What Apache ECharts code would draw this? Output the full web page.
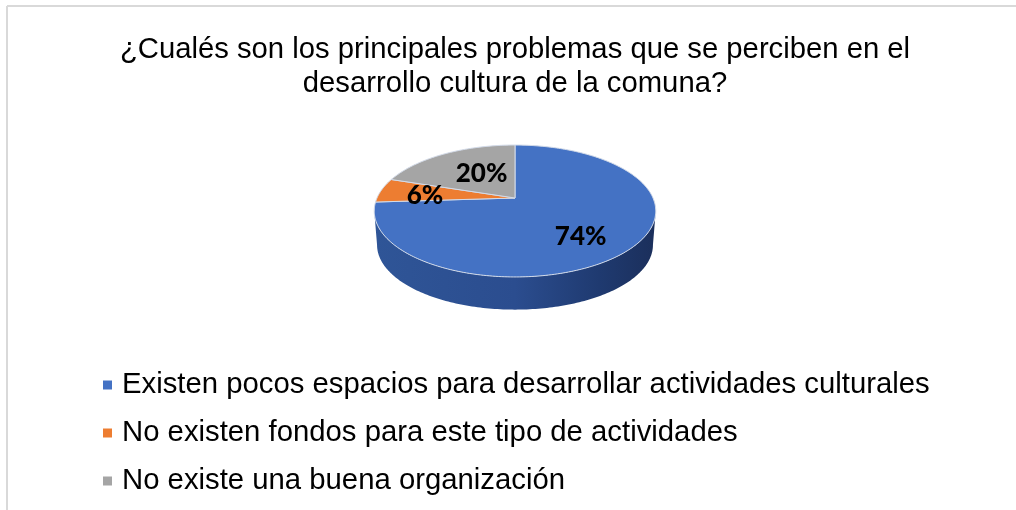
<!DOCTYPE html>
<html>
<head>
<meta charset="utf-8">
<style>
  html, body { margin: 0; padding: 0; background: #fff; }
  #chart { width: 1016px; height: 510px; }
</style>
<script src="https://cdn.jsdelivr.net/npm/echarts@6/dist/echarts.min.js"></script>
</head>
<body>
<div id="chart"></div>
<script>
const titleLines = [
  '¿Cualés son los principales problemas que se perciben en el',
  'desarrollo cultura de la comuna?'
]
const categories = [
  'Existen pocos espacios para desarrollar actividades culturales',
  'No existen fondos para este tipo de actividades',
  'No existe una buena organización'
]
const values = [74, 6, 20]
const colors = ['#4472c4', '#ed7d31', '#a5a5a5']

// tilted disc: a circle seen in perspective
const disc = { cx: 515, cy: 198, a: 138, b: 63.4, p: 0.197, depth: 34, midY: 211, shrink: 0.98 }
const labelRadius = 0.6
const labelNudge = [[0, 10], [-9, 2], [11, 4]]
const total = values.reduce((s, v) => s + v, 0)

function project(deg, r) {
  const t = deg * Math.PI / 180
  const u = Math.sin(t) * r
  const v = -Math.cos(t) * r
  const w = 1 - disc.p * v
  return [disc.cx + disc.a * u / w, disc.cy + disc.b * v / w]
}
function projectLower(deg) {
  const pt = project(deg, 1)
  return [
    disc.cx + (pt[0] - disc.cx) * disc.shrink,
    disc.midY + (pt[1] - disc.midY) * disc.shrink + disc.depth
  ]
}
function arc(from, to, fn) {
  const pts = []
  const n = Math.max(2, Math.ceil(Math.abs(to - from)))
  for (let i = 0; i <= n; i++) pts.push(fn(from + (to - from) * i / n))
  return pts
}

// the rim is only seen between the two outermost points of the disc
const frontFrom = Math.acos(-disc.p) * 180 / Math.PI
const frontTo = 360 - frontFrom

function makeRender(idx) {
  return function () {
    const start = values.slice(0, idx).reduce((s, v) => s + v, 0) / total * 360
    const end = start + values[idx] / total * 360
    const children = []
    const from = Math.max(start, frontFrom)
    const to = Math.min(end, frontTo)
    if (to > from) {
      const rimTop = arc(from, to, d => project(d, 1))
      const rimLow = arc(to, from, projectLower)
      children.push({
        type: 'polygon',
        z2: 1,
        shape: { points: rimTop.concat(rimLow) },
        style: {
          fill: new echarts.graphic.LinearGradient(0, 0, 1, 0, [
            { offset: 0, color: '#2f5597' },
            { offset: 0.5, color: '#2b4d8f' },
            { offset: 0.8, color: '#1f3a70' },
            { offset: 1, color: '#1b2f5b' }
          ])
        }
      })
    }
    const top = [[disc.cx, disc.cy]].concat(arc(start, end, d => project(d, 1)))
    children.push({
      type: 'polygon',
      z2: 2,
      shape: { points: top },
      style: { fill: colors[idx], stroke: '#d3dbe9', lineWidth: 1 }
    })
    const mid = (start + end) / 2
    const at = project(mid, labelRadius)
    children.push({
      type: 'text',
      z2: 10,
      style: {
        x: at[0] + labelNudge[idx][0],
        y: at[1] + labelNudge[idx][1],
        text: Math.round(values[idx] / total * 100) + '%',
        font: '900 26px Lato',
        fill: '#000',
        align: 'center',
        verticalAlign: 'middle'
      }
    })
    return { type: 'group', children: children }
  }
}

const chart = echarts.init(document.getElementById('chart'), null, { renderer: 'canvas' })
chart.setOption({
  animation: false,
  backgroundColor: '#fff',
  title: {
    text: titleLines.join('\n'),
    left: 510,
    top: 28,
    textAlign: 'center',
    textStyle: {
      fontFamily: 'Liberation Sans',
      fontWeight: 'normal',
      fontSize: 29.26,
      lineHeight: 34,
      color: '#000'
    }
  },
  legend: {
    data: categories,
    orient: 'vertical',
    left: 103,
    top: 370,
    padding: 0,
    itemWidth: 9,
    itemHeight: 9,
    itemGap: 18,
    icon: 'rect',
    selectedMode: false,
    textStyle: {
      fontFamily: 'Liberation Sans',
      fontSize: 29.3,
      lineHeight: 30,
      color: '#000',
      padding: [0, 0, 0, 5]
    }
  },
  graphic: [
    { type: 'line', shape: { x1: 7, y1: 6, x2: 1016, y2: 6 }, style: { stroke: '#d9d9d9', lineWidth: 2 } },
    { type: 'line', shape: { x1: 7, y1: 6, x2: 7, y2: 510 }, style: { stroke: '#d9d9d9', lineWidth: 2 } }
  ],
  series: categories.map((name, i) => ({
    type: 'custom',
    name: name,
    coordinateSystem: 'none',
    itemStyle: { color: colors[i] },
    silent: true,
    data: [values[i]],
    renderItem: makeRender(i)
  }))
})
</script>
</body>
</html>
